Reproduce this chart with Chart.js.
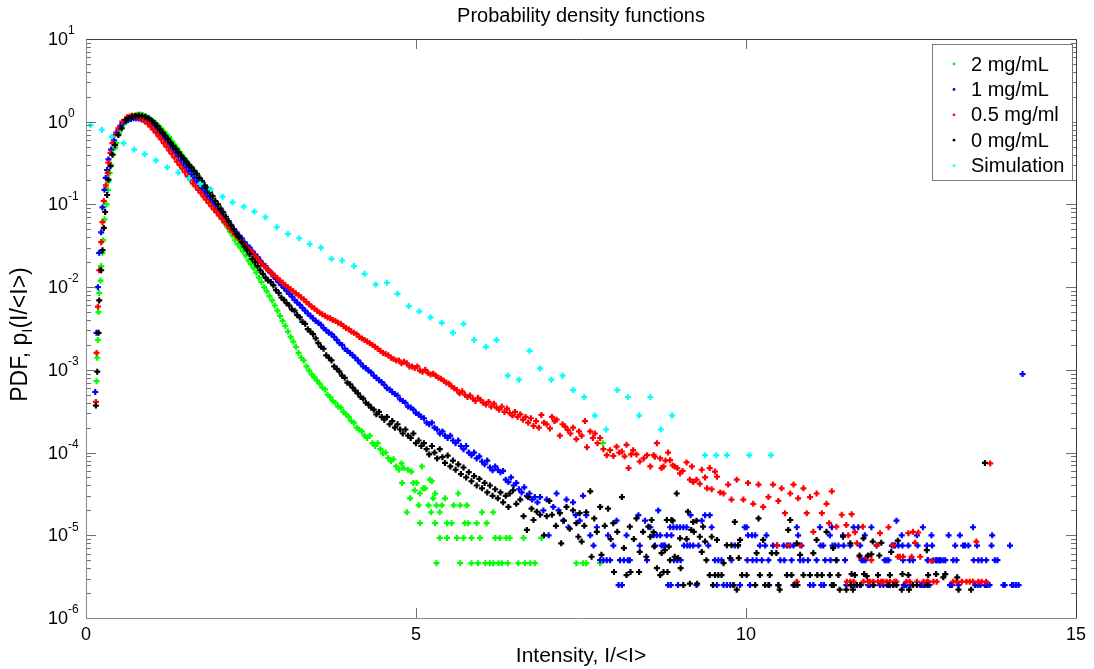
<!DOCTYPE html>
<html>
<head>
<meta charset="utf-8">
<title>Probability density functions</title>
<script src="https://cdn.jsdelivr.net/npm/chart.js@4.4.1/dist/chart.umd.min.js"></script>
<style>
  html, body { margin: 0; padding: 0; background: #fff; }
  canvas { display: block; }
</style>
</head>
<body>
<canvas id="pdfChart" width="1094" height="669"></canvas>
<script>
// intensity PDFs, each point is [I/<I>, p_I]
const pdf2mg = [
  [0.16,7.3e-4],[0.17,1.4e-3],[0.18,2.3e-3],[0.19,5.0e-3],[0.20,8.5e-3],[0.22,1.2e-2],[0.23,1.8e-2],[0.25,2.6e-2],[0.26,3.7e-2],[0.28,6.6e-2],
  [0.31,0.10],[0.33,0.15],[0.34,0.19],[0.36,0.24],[0.38,0.30],[0.41,0.40],[0.44,0.48],[0.46,0.55],[0.50,0.73],[0.54,0.84],[0.58,0.95],[0.62,1.03],
  [0.66,1.10],[0.70,1.15],[0.74,1.18],[0.78,1.21],[0.82,1.22],[0.86,1.20],[0.90,1.17],[0.94,1.12],[0.98,1.06],[1.02,1.00],[1.06,0.95],[1.10,0.89],
  [1.14,0.83],[1.18,0.76],[1.22,0.70],[1.26,0.65],[1.30,0.58],[1.34,0.53],[1.38,0.48],[1.42,0.43],[1.46,0.39],[1.50,0.35],[1.54,0.32],[1.58,0.28],
  [1.62,0.25],[1.66,0.23],[1.70,0.21],[1.74,0.19],[1.78,0.165],[1.82,0.145],[1.86,0.13],[1.90,0.115],[1.94,0.10],[1.98,0.086],[2.02,0.074],
  [2.06,0.067],[2.10,0.060],[2.14,0.053],[2.18,0.047],[2.22,0.042],[2.26,0.037],[2.30,0.033],[2.34,0.030],[2.38,0.027],[2.42,0.024],[2.46,0.021],
  [2.50,0.019],[2.54,0.017],[2.58,0.015],[2.62,0.013],[2.66,0.0115],[2.70,0.010],[2.74,0.0089],[2.78,0.0078],[2.82,0.0069],[2.86,0.0060],
  [2.90,0.0052],[2.94,0.0045],[2.98,0.0039],[3.02,0.0034],[3.06,0.0029],[3.10,0.0025],[3.14,0.0022],[3.18,0.0019],[3.22,0.0016],[3.26,0.0014],
  [3.30,0.0013],[3.34,0.0011],[3.38,9.8e-4],[3.42,8.8e-4],[3.46,8.1e-4],[3.50,7.4e-4],[3.54,6.8e-4],[3.58,6.1e-4],[3.62,5.8e-4],[3.66,5.0e-4],
  [3.70,4.7e-4],[3.74,4.2e-4],[3.78,4.0e-4],[3.82,3.6e-4],[3.86,3.5e-4],[3.90,3.1e-4],[3.94,2.9e-4],[3.98,2.7e-4],[4.02,2.4e-4],[4.06,2.3e-4],
  [4.10,2.0e-4],[4.14,1.9e-4],[4.18,1.8e-4],[4.22,1.6e-4],[4.26,1.5e-4],[4.30,1.6e-4],[4.34,1.3e-4],[4.38,1.2e-4],[4.42,1.3e-4],[4.46,1.1e-4],
  [4.50,9.8e-5],[4.54,1.0e-4],[4.58,8.6e-5],[4.62,7.9e-5],[4.66,8.3e-5],[4.70,6.8e-5],[4.74,6.2e-5],
  [4.78,7.4e-5],[4.81,6.5e-5],[4.88,6.2e-5],[4.93,5.9e-5],[4.79,4.3e-5],[4.96,4.3e-5],[5.01,4.3e-5],[5.09,6.8e-5],[5.11,3.7e-5],[5.14,3.7e-5],
  [5.21,4.7e-5],[5.24,4.5e-5],[4.98,3.5e-5],[5.06,3.2e-5],[4.91,2.8e-5],[5.04,2.3e-5],[5.26,2.8e-5],[5.29,3.2e-5],[5.19,2.3e-5],[5.23,1.9e-5],
  [5.31,2.3e-5],[5.39,2.3e-5],[4.86,1.9e-5],[5.06,1.4e-5],[5.29,1.4e-5],[5.36,1.9e-5],[5.44,2.8e-5],[5.47,1.4e-5],[5.54,1.4e-5],[5.57,2.3e-5],
  [5.64,3.2e-5],[5.67,2.3e-5],[5.74,1.4e-5],[5.77,2.3e-5],[5.79,1.4e-5],[5.92,1.4e-5],[6.00,1.9e-5],[6.07,1.4e-5],[6.17,1.9e-5],
  [5.36,9.3e-6],[5.47,9.3e-6],[5.62,9.3e-6],[5.72,9.3e-6],[5.84,9.3e-6],[5.97,9.3e-6],[6.20,9.3e-6],[6.27,9.3e-6],[6.37,9.3e-6],[6.42,9.3e-6],
  [6.63,9.3e-6],[6.90,9.3e-6],[5.31,4.6e-6],[5.67,4.6e-6],[5.84,4.6e-6],[5.94,4.6e-6],[6.05,4.6e-6],[6.12,4.6e-6],[6.17,4.6e-6],[6.25,4.6e-6],
  [6.30,4.6e-6],[6.39,4.6e-6],[6.55,4.6e-6],[6.65,4.6e-6],[6.73,4.6e-6],[6.80,4.6e-6],[7.43,4.6e-6],[7.53,4.6e-6],[7.58,4.6e-6],[7.79,4.6e-6],
  [7.83,1.3e-4]
];

const pdf1mg = [
  [0.14,5.4e-4],[0.16,2.8e-3],[0.18,1.0e-2],[0.20,2.6e-2],[0.23,4.6e-2],[0.25,9.2e-2],[0.28,0.15],[0.30,0.21],[0.32,0.26],[0.34,0.35],[0.38,0.46],
  [0.42,0.60],[0.46,0.74],[0.52,0.89],[0.56,0.96],[0.60,1.01],[0.64,1.05],[0.68,1.08],[0.72,1.10],[0.76,1.10],[0.80,1.09],[0.84,1.07],[0.88,1.04],
  [0.92,1.00],[0.96,0.95],[1.00,0.90],[1.04,0.84],[1.08,0.78],[1.12,0.72],[1.16,0.66],[1.20,0.61],[1.24,0.56],[1.28,0.50],[1.32,0.46],[1.36,0.42],
  [1.40,0.38],[1.44,0.34],[1.48,0.31],[1.52,0.28],[1.56,0.255],[1.60,0.23],[1.64,0.21],[1.68,0.19],[1.72,0.17],[1.76,0.155],[1.80,0.14],
  [1.84,0.127],[1.88,0.115],[1.92,0.105],[1.96,0.095],[2.00,0.087],[2.04,0.080],[2.08,0.073],[2.12,0.066],[2.16,0.061],[2.20,0.055],[2.24,0.050],
  [2.28,0.046],[2.32,0.042],[2.36,0.039],[2.40,0.035],[2.44,0.032],[2.48,0.030],[2.52,0.027],[2.56,0.025],[2.60,0.023],[2.64,0.021],[2.68,0.019],
  [2.72,0.018],[2.76,0.016],[2.80,0.015],[2.84,0.0135],[2.88,0.0125],[2.92,0.0115],[2.96,0.0106],[3.00,0.0098],[3.04,0.0090],[3.08,0.0083],
  [3.12,0.0077],[3.16,0.0070],[3.20,0.0065],[3.24,0.0061],[3.28,0.0056],[3.32,0.0052],[3.36,0.0048],[3.40,0.0045],[3.44,0.0042],[3.48,0.0039],
  [3.52,0.0037],[3.56,0.0035],[3.60,0.0032],[3.64,0.0030],[3.68,0.0028],[3.72,0.0027],[3.76,0.0025],[3.80,0.0023],[3.84,0.0021],[3.88,0.0020],
  [3.92,0.0018],[3.96,0.0017],[4.00,0.0016],[4.04,0.0015],[4.08,0.0014],[4.12,0.0013],[4.16,0.0012],[4.20,0.0011],[4.24,1.05e-3],[4.28,9.8e-4],
  [4.32,9.3e-4],[4.36,8.5e-4],[4.40,8.0e-4],[4.44,7.5e-4],[4.48,7.1e-4],[4.52,6.6e-4],[4.56,6.0e-4],[4.60,5.8e-4],[4.64,5.4e-4],[4.68,5.1e-4],
  [4.72,4.9e-4],[4.76,4.4e-4],[4.80,4.2e-4],[4.84,4.0e-4],[4.88,3.6e-4],[4.92,3.5e-4],[4.96,3.3e-4],[5.00,3.0e-4],[5.04,2.9e-4],[5.08,2.7e-4],
  [5.12,2.6e-4],[5.16,2.3e-4],[5.20,2.2e-4],[5.24,2.3e-4],[5.28,2.0e-4],[5.32,1.9e-4],[5.36,1.7e-4],[5.40,1.8e-4],[5.44,1.6e-4],[5.48,1.5e-4],
  [5.52,1.6e-4],[5.56,1.4e-4],[5.60,1.3e-4],[5.64,1.4e-4],[5.68,1.2e-4],[5.72,1.1e-4],[5.76,1.2e-4],[5.80,1.0e-4],[5.84,9.3e-5],[5.88,1.0e-4],
  [5.92,8.5e-5],[5.96,9.0e-5],[6.00,7.8e-5],[6.04,7.2e-5],[6.08,8.0e-5],[6.12,6.6e-5],[6.16,6.1e-5],[6.20,6.8e-5],[6.24,6.2e-5],[6.28,5.8e-5],
  [6.32,6.0e-5],[6.36,4.7e-5],[6.40,4.4e-5],[6.44,5.0e-5],[6.48,4.0e-5],[6.52,4.3e-5],[6.56,3.6e-5],[6.60,3.3e-5],[6.64,3.8e-5],[6.68,3.0e-5],
  [6.72,3.2e-5],[6.76,2.7e-5],[6.80,2.9e-5],[6.84,2.5e-5],
  [6.88,2.9e-5],[6.93,2.0e-5],[6.98,2.7e-5],[7.01,1.0e-5],[7.08,2.2e-5],[7.13,3.2e-5],[7.16,2.0e-5],[7.23,1.5e-5],[7.28,2.7e-5],[7.31,1.25e-5],
  [7.38,2.5e-5],[7.42,1.75e-5],[7.48,1.5e-5],[7.53,3.0e-5],[7.58,1.75e-5],[7.64,1.0e-5],[7.69,7.5e-6],[7.74,1.25e-5],[7.79,5e-6],[7.84,5e-6],
  [7.89,5e-6],[7.91,1.0e-5],[7.94,5e-6],[7.99,7.5e-6],[8.04,1.5e-5],[8.07,2.5e-6],[8.09,5e-6],[8.12,2.5e-6],[8.15,5e-6],[8.19,1.0e-5],[8.21,5e-6],
  [8.24,5e-6],[8.37,1.75e-5],[8.39,7.5e-6],[8.47,1.5e-5],[8.50,5e-6],[8.55,1.25e-5],[8.60,1.0e-5],[8.62,7.5e-6],[8.65,1.0e-5],[8.67,2.0e-5],
  [8.70,1.0e-5],[8.72,7.5e-6],[8.75,7.5e-6],[8.77,7.5e-6],[8.80,1.0e-5],[8.82,2.5e-6],[8.85,1.25e-5],[8.86,2.5e-6],[8.87,1.0e-5],[8.90,1.25e-5],
  [8.91,5e-6],[8.95,1.25e-5],[8.96,5e-6],[8.97,2.5e-6],[9.00,1.25e-5],[9.01,5e-6],[9.05,1.25e-5],[9.06,7.5e-6],[9.10,1.25e-5],[9.11,7.5e-6],
  [9.15,7.5e-6],[9.16,1.75e-5],[9.20,7.5e-6],[9.25,2.5e-6],[9.28,7.5e-6],[9.33,1.5e-5],[9.38,1.75e-5],[9.43,7.5e-6],[9.45,1.75e-5],[9.48,1.25e-5],
  [9.50,2.5e-6],[9.53,5e-6],[9.56,2.5e-6],[9.58,5e-6],[9.63,5e-6],[9.66,2.5e-6],[9.71,2.5e-6],[9.76,2.5e-6],[9.78,5e-6],[9.81,2.5e-6],[9.83,7.5e-6],
  [9.88,7.5e-6],[9.91,2.5e-6],[9.98,1.25e-5],[10.01,1.25e-5],[10.02,5e-6],[10.03,1.0e-5],[10.06,2.5e-6],[10.09,1.0e-5],[10.10,5e-6],[10.14,1.0e-5],
  [10.16,5e-6],[10.21,7.5e-6],[10.24,5e-6],[10.29,7.5e-6],[10.31,1.0e-5],[10.34,5e-6],[10.35,2.5e-6],[10.41,7.5e-6],[10.47,7.5e-6],[10.49,2.5e-6],
  [10.52,5e-6],[10.57,7.5e-6],[10.58,5e-6],[10.62,7.5e-6],[10.67,7.5e-6],[10.69,5e-6],[10.72,7.5e-6],[10.74,2.5e-6],[10.77,1.25e-5],[10.79,1.0e-5],
  [10.82,5e-6],[10.84,7.5e-6],[10.87,5e-6],[10.94,5e-6],[10.97,2.5e-6],[11.02,2.5e-6],[11.07,5e-6],[11.12,1.25e-5],[11.13,7.5e-6],[11.14,2.5e-6],
  [11.17,7.5e-6],[11.18,2.5e-6],[11.20,5e-6],[11.27,1.0e-5],[11.28,5e-6],[11.30,1.25e-5],[11.31,7.5e-6],[11.35,7.5e-6],[11.37,5e-6],[11.40,7.5e-6],
  [11.47,1.0e-5],[11.48,7.5e-6],[11.50,5e-6],[11.52,2.5e-6],[11.58,7.5e-6],[11.59,2.5e-6],[11.63,1.25e-5],[11.64,2.5e-6],[11.68,2.5e-6],
  [11.70,1.25e-5],[11.73,7.5e-6],[11.74,2.5e-6],[11.75,5e-6],[11.78,5e-6],[11.80,1.0e-5],[11.81,5e-6],[11.85,2.5e-6],[11.88,2.5e-6],[11.90,1.25e-5],
  [11.93,2.5e-6],[11.98,7.5e-6],[12.03,2.5e-6],[12.08,2.5e-6],[12.10,5e-6],[12.13,5e-6],[12.14,2.5e-6],[12.16,5e-6],[12.18,2.5e-6],[12.21,7.5e-6],
  [12.23,2.5e-6],[12.24,7.5e-6],[12.26,7.5e-6],[12.28,1.5e-5],[12.31,7.5e-6],[12.36,1.0e-5],[12.37,7.5e-6],[12.38,5e-6],[12.39,2.5e-6],
  [12.41,2.5e-6],[12.43,2.5e-6],[12.46,7.5e-6],[12.48,5e-6],[12.49,2.5e-6],[12.53,5e-6],[12.59,1.0e-5],[12.60,7.5e-6],[12.64,2.5e-6],
  [12.66,2.5e-6],[12.68,1.25e-5],[12.69,2.5e-6],[12.71,2.5e-6],[12.74,7.5e-6],[12.75,5e-6],[12.76,5e-6],[12.78,2.5e-6],[12.81,1.0e-5],
  [12.82,7.5e-6],[12.84,5e-6],[12.88,5e-6],[12.89,5e-6],[12.92,5e-6],[12.94,5e-6],[12.95,5e-6],[12.99,5e-6],[13.02,5e-6],[13.07,1.0e-5],
  [13.09,2.5e-6],[13.12,2.5e-6],[13.14,5e-6],[13.17,7.5e-6],[13.19,5e-6],[13.22,2.5e-6],[13.24,1.0e-5],[13.29,7.5e-6],[13.32,7.5e-6],
  [13.37,7.5e-6],[13.44,1.25e-5],[13.45,5e-6],[13.47,2.5e-6],[13.50,7.5e-6],[13.51,2.5e-6],[13.52,5e-6],[13.55,2.5e-6],[13.57,5e-6],
  [13.62,2.5e-6],[13.64,5e-6],[13.65,2.5e-6],[13.69,2.5e-6],[13.72,7.5e-6],[13.73,1.0e-5],[13.77,5e-6],[13.81,5e-6],[13.90,2.5e-6],
  [13.92,2.5e-6],[14.00,7.5e-6],[14.03,2.5e-6],[14.05,2.5e-6],[14.09,2.5e-6],[14.13,2.5e-6],[14.19,8.9e-4]
];

const pdf05mg = [
  [0.15,4.1e-4],[0.16,1.6e-3],[0.18,5.8e-3],[0.20,1.6e-2],[0.23,3.5e-2],[0.25,6.1e-2],[0.27,0.11],[0.30,0.17],[0.33,0.24],[0.34,0.32],[0.37,0.42],
  [0.40,0.55],[0.43,0.69],[0.49,0.83],[0.55,1.0],[0.62,1.13],[0.66,1.16],[0.70,1.18],[0.74,1.17],[0.78,1.15],[0.82,1.11],[0.86,1.06],[0.90,1.00],
  [0.94,0.94],[0.98,0.87],[1.02,0.80],[1.06,0.74],[1.10,0.67],[1.14,0.61],[1.18,0.55],[1.22,0.50],[1.26,0.45],[1.30,0.41],[1.34,0.37],[1.38,0.33],
  [1.42,0.30],[1.46,0.27],[1.50,0.245],[1.54,0.22],[1.58,0.20],[1.62,0.18],[1.66,0.165],[1.70,0.15],[1.74,0.138],[1.78,0.125],[1.82,0.114],
  [1.86,0.104],[1.90,0.095],[1.94,0.087],[1.98,0.080],[2.02,0.073],[2.06,0.067],[2.10,0.061],[2.14,0.056],[2.18,0.051],[2.22,0.047],[2.26,0.043],
  [2.30,0.040],[2.34,0.037],[2.38,0.034],[2.42,0.031],[2.46,0.029],[2.50,0.027],[2.54,0.025],[2.58,0.023],[2.62,0.021],[2.66,0.0195],[2.70,0.018],
  [2.74,0.0168],[2.78,0.0157],[2.82,0.0146],[2.86,0.0137],[2.90,0.0128],[2.94,0.012],[2.98,0.0113],[3.02,0.0106],[3.06,0.0100],[3.10,0.0094],
  [3.14,0.0089],[3.18,0.0084],[3.22,0.0080],[3.26,0.0075],[3.30,0.0071],[3.34,0.0066],[3.38,0.0062],[3.42,0.0058],[3.46,0.0055],[3.50,0.0052],
  [3.54,0.0049],[3.58,0.0047],[3.62,0.0045],[3.66,0.0043],[3.70,0.0042],[3.74,0.0040],[3.78,0.0039],[3.82,0.0037],[3.86,0.0036],[3.90,0.0034],
  [3.94,0.0032],[3.98,0.0031],[4.02,0.0029],[4.06,0.0028],[4.10,0.0027],[4.14,0.0025],[4.18,0.0024],[4.22,0.0023],[4.26,0.0022],[4.30,0.0021],
  [4.34,0.0020],[4.38,0.0019],[4.42,0.0018],[4.46,0.0017],[4.50,0.0016],[4.54,0.00155],[4.58,0.0015],[4.62,0.0014],[4.66,0.00135],[4.70,0.0013],
  [4.74,0.0013],[4.78,0.0012],[4.82,0.00125],[4.86,0.0012],[4.90,0.0011],[4.94,0.0011],[4.98,0.00105],[5.02,0.0011],[5.06,9.8e-4],[5.10,9.5e-4],
  [5.14,1.0e-3],[5.18,9.2e-4],[5.22,8.8e-4],[5.26,9.0e-4],[5.30,8.5e-4],[5.34,8.0e-4],[5.38,7.8e-4],[5.42,7.4e-4],[5.46,7.0e-4],[5.50,6.8e-4],
  [5.54,6.3e-4],[5.58,6.0e-4],[5.62,5.7e-4],[5.66,5.2e-4],[5.70,5.5e-4],[5.74,5.0e-4],[5.78,4.7e-4],[5.82,4.9e-4],[5.86,4.5e-4],[5.90,4.2e-4],
  [5.94,4.6e-4],[5.98,4.3e-4],[6.02,4.0e-4],[6.06,3.8e-4],[6.10,4.1e-4],[6.14,3.6e-4],[6.18,3.9e-4],[6.22,3.5e-4],[6.26,3.3e-4],[6.30,3.6e-4],
  [6.34,3.1e-4],[6.38,3.4e-4],[6.42,3.0e-4],[6.46,2.8e-4],[6.50,3.1e-4],[6.54,2.7e-4],[6.58,2.9e-4],[6.62,2.5e-4],[6.66,2.7e-4],[6.70,2.3e-4],
  [6.74,2.6e-4],[6.78,2.1e-4],[6.82,2.4e-4],[6.86,2.0e-4],
  [6.90,2.85e-4],[6.94,2.3e-4],[6.98,2.2e-4],[7.03,1.96e-4],[7.06,2.7e-4],[7.10,2.4e-4],[7.13,2.5e-4],[7.18,1.6e-4],[7.22,2.2e-4],[7.26,2.06e-4],
  [7.30,1.88e-4],[7.34,1.7e-4],[7.38,2.0e-4],[7.43,1.45e-4],[7.47,1.8e-4],[7.51,1.6e-4],[7.56,2.4e-4],[7.59,1.16e-4],[7.64,1.8e-4],[7.68,1.5e-4],
  [7.71,1.7e-4],[7.75,1.3e-4],[7.79,1.5e-4],[7.84,1.1e-4],[7.89,9.3e-5],[7.94,1.07e-4],[7.99,9.1e-5],[8.04,1.18e-4],[8.08,1.0e-4],[8.12,1.03e-4],
  [8.16,9.0e-5],[8.19,1.24e-4],[8.22,6.5e-5],[8.26,9.5e-5],[8.29,1.07e-4],[8.34,9.5e-5],[8.39,7.8e-5],[8.45,8.5e-5],[8.50,9.3e-5],[8.55,6.8e-5],
  [8.60,9.3e-5],[8.62,8.9e-5],[8.65,1.3e-4],[8.70,8.5e-5],[8.72,6.5e-5],[8.75,6.8e-5],[8.78,8.0e-5],[8.82,1.0e-4],[8.85,8.1e-5],[8.89,7.0e-5],
  [8.92,6.8e-5],[8.96,6.5e-5],[9.00,5.6e-5],[9.04,6.0e-5],[9.10,7.6e-5],[9.15,4.7e-5],[9.18,6.8e-5],[9.20,4.4e-5],[9.25,4.7e-5],[9.30,4.2e-5],
  [9.33,6.2e-5],[9.38,5.0e-5],[9.41,3.7e-5],[9.45,6.5e-5],[9.48,3.6e-5],[9.53,5.9e-5],[9.56,5.1e-5],[9.61,3.3e-5],[9.66,3.2e-5],[9.73,4.1e-5],
  [9.78,2.7e-5],[9.86,4.7e-5],[9.96,2.7e-5],[10.03,4.3e-5],[10.11,2.4e-5],[10.19,4.1e-5],[10.26,2.2e-5],[10.34,2.9e-5],[10.41,4.1e-5],
  [10.47,7.6e-6],[10.49,2.6e-5],[10.54,3.7e-5],[10.59,1.85e-5],[10.64,7.6e-6],[10.67,3.2e-5],[10.72,4.1e-5],[10.77,2.75e-6],[10.79,2.8e-5],
  [10.82,7.6e-6],[10.87,3.7e-5],[10.92,1.85e-5],[10.97,2.9e-5],[11.02,1.1e-5],[11.07,3.2e-5],[11.15,1.85e-5],[11.22,2.4e-5],[11.26,1.4e-5],
  [11.30,3.4e-5],[11.37,1.27e-5],[11.45,1.77e-5],[11.52,1.33e-5],[11.53,2.75e-6],[11.55,1.0e-5],[11.58,2.75e-6],[11.60,1.8e-5],[11.63,2.75e-6],
  [11.65,1.09e-5],[11.68,8.0e-6],[11.72,5.5e-6],[11.77,1.27e-5],[11.78,2.75e-6],[11.83,5.5e-6],[11.85,2.75e-6],[11.88,2.75e-6],[11.90,5.0e-6],
  [11.93,2.75e-6],[11.98,7.6e-6],[12.00,2.75e-6],[12.03,1.06e-5],[12.05,2.75e-6],[12.08,2.75e-6],[12.13,2.75e-6],[12.16,1.25e-5],[12.18,2.75e-6],
  [12.23,7.6e-6],[12.25,2.75e-6],[12.28,2.75e-6],[12.30,5.5e-6],[12.33,5.5e-6],[12.38,5.5e-6],[12.43,2.75e-6],[12.46,1.06e-5],[12.48,2.75e-6],
  [12.51,5.5e-6],[12.53,1.1e-5],[12.56,8.1e-6],[12.59,2.75e-6],[12.61,1.08e-5],[12.64,5.5e-6],[12.69,2.75e-6],[12.74,2.75e-6],[12.76,2.75e-6],
  [12.81,4.9e-6],[12.84,2.75e-6],[12.89,2.75e-6],[13.14,2.75e-6],[13.19,2.75e-6],[13.27,2.75e-6],[13.34,2.75e-6],[13.39,2.75e-6],[13.44,2.75e-6],
  [13.49,8.4e-6],[13.52,2.75e-6],[13.57,2.75e-6],[13.64,2.75e-6],[13.70,7.4e-5]
];

const pdf0mg = [
  [0.15,3.7e-4],[0.17,9.5e-4],[0.19,2.8e-3],[0.20,6.9e-3],[0.23,1.6e-2],[0.25,2.8e-2],[0.27,5.2e-2],[0.29,8.1e-2],[0.32,0.13],[0.34,0.20],
  [0.37,0.29],[0.40,0.40],[0.44,0.52],[0.49,0.69],[0.54,0.83],[0.60,1.05],[0.65,1.11],[0.70,1.15],[0.75,1.18],[0.80,1.19],[0.85,1.18],[0.90,1.15],
  [0.95,1.10],[1.00,1.03],[1.04,0.96],[1.08,0.89],[1.12,0.81],[1.16,0.74],[1.20,0.68],[1.24,0.62],[1.28,0.56],[1.32,0.51],[1.36,0.47],[1.40,0.43],
  [1.44,0.39],[1.48,0.36],[1.52,0.33],[1.56,0.30],[1.60,0.28],[1.64,0.255],[1.68,0.235],[1.72,0.21],[1.76,0.19],[1.80,0.17],[1.84,0.155],
  [1.88,0.14],[1.92,0.125],[1.96,0.11],[2.00,0.10],[2.04,0.089],[2.08,0.080],[2.12,0.071],[2.16,0.063],[2.20,0.056],[2.24,0.050],[2.28,0.044],
  [2.32,0.040],[2.36,0.035],[2.40,0.031],[2.44,0.028],[2.48,0.025],[2.52,0.022],[2.56,0.020],[2.60,0.018],[2.64,0.016],[2.68,0.0145],[2.72,0.013],
  [2.76,0.012],[2.80,0.0115],[2.84,0.0105],[2.88,0.0092],[2.92,0.0085],[2.96,0.0075],[3.00,0.0070],[3.04,0.0064],[3.08,0.0060],[3.12,0.0054],
  [3.16,0.0052],[3.20,0.0046],[3.24,0.0043],[3.28,0.0038],[3.32,0.0036],[3.36,0.0031],[3.40,0.0029],[3.44,0.0027],[3.48,0.0024],[3.52,0.0021],
  [3.56,0.0019],[3.60,0.0018],[3.64,0.0015],[3.68,0.0014],[3.72,0.0013],[3.76,0.0011],[3.80,1.03e-3],[3.84,9.5e-4],[3.88,8.5e-4],[3.92,8.0e-4],
  [3.96,7.0e-4],[4.00,6.7e-4],[4.04,6.1e-4],[4.08,5.6e-4],[4.12,5.2e-4],[4.16,4.7e-4],[4.20,4.5e-4],[4.24,4.0e-4],[4.28,3.8e-4],[4.32,3.5e-4],
  [4.36,3.3e-4],[4.40,2.9e-4],[4.44,3.1e-4],[4.48,2.7e-4],[4.52,2.5e-4],[4.56,2.7e-4],[4.60,2.2e-4],[4.64,2.4e-4],[4.68,2.0e-4],[4.72,2.2e-4],
  [4.76,1.9e-4],[4.80,1.7e-4],[4.84,1.9e-4],[4.88,1.6e-4],[4.92,1.5e-4],[4.96,1.7e-4],[5.00,1.3e-4],[5.04,1.4e-4],[5.08,1.2e-4],[5.12,1.3e-4],
  [5.16,1.1e-4],[5.20,9.5e-5],[5.24,1.2e-4],[5.28,1.0e-4],[5.32,8.5e-5],[5.36,1.1e-4],[5.40,8.8e-5],[5.44,7.5e-5],[5.48,9.2e-5],[5.52,6.8e-5],
  [5.56,8.0e-5],[5.60,6.2e-5],[5.64,7.2e-5],[5.68,5.5e-5],[5.72,6.6e-5],[5.76,5.0e-5],[5.80,5.8e-5],[5.84,4.5e-5],[5.88,5.2e-5],[5.92,4.0e-5],
  [5.96,4.8e-5],[6.00,3.7e-5],[6.04,4.3e-5],[6.08,3.3e-5],[6.12,4.0e-5],[6.16,3.0e-5],[6.20,3.6e-5],[6.24,2.8e-5],[6.28,3.3e-5],[6.32,2.5e-5],
  [6.36,3.0e-5],[6.40,2.2e-5],
  [6.42,3.2e-5],[6.47,3.5e-5],[6.52,2.4e-5],[6.58,2.7e-5],[6.63,1.7e-5],[6.68,1.16e-5],[6.70,2.9e-5],[6.75,2.1e-5],[6.78,1.53e-5],[6.83,1.93e-5],
  [6.88,1.77e-5],[6.94,1.0e-5],[6.98,1.7e-5],[7.02,2.6e-5],[7.06,1.77e-5],[7.12,1.3e-5],[7.18,1.85e-5],[7.20,8.0e-6],[7.24,1.5e-5],[7.28,2.2e-5],
  [7.33,1.2e-5],[7.38,2.0e-5],[7.43,1.4e-5],[7.46,9.6e-6],[7.48,1.85e-5],[7.51,8.4e-6],[7.55,1.3e-5],[7.58,1.9e-5],[7.64,3.4e-5],[7.66,5.5e-6],
  [7.70,1.6e-5],[7.74,1.1e-5],[7.79,2.2e-5],[7.81,5.8e-6],[7.86,1.3e-5],[7.91,2.1e-5],[7.95,9.0e-6],[7.99,1.4e-5],[8.00,3.6e-6],[8.05,1.1e-5],
  [8.12,2.9e-5],[8.15,7.0e-6],[8.19,3.3e-6],[8.24,1.27e-5],[8.25,3.6e-6],[8.30,9.0e-6],[8.34,1.6e-5],[8.38,3.6e-6],[8.39,6.3e-6],[8.44,1.1e-5],
  [8.49,5.5e-6],[8.52,1.27e-5],[8.55,9.6e-6],[8.57,1.53e-5],[8.60,1.09e-5],[8.61,7.3e-6],[8.65,4.0e-6],[8.70,3.3e-6],[8.72,6.1e-6],[8.75,3.6e-6],
  [8.77,6.6e-6],[8.80,1.53e-5],[8.81,3.6e-6],[8.83,7.3e-6],[8.85,5.0e-6],[8.87,1.53e-5],[8.89,1.5e-5],[8.92,5.5e-6],[8.95,3.2e-5],[8.97,5.3e-6],
  [9.00,9.2e-6],[9.01,4.0e-6],[9.05,2.5e-6],[9.10,9.0e-6],[9.12,1.93e-5],[9.15,2.6e-6],[9.17,1.16e-5],[9.20,1.45e-5],[9.21,1.1e-5],[9.25,1.5e-5],
  [9.26,2.6e-6],[9.30,9.6e-6],[9.33,6.3e-6],[9.35,1.27e-5],[9.38,8.4e-6],[9.40,5.0e-6],[9.45,3.3e-6],[9.48,9.6e-6],[9.50,2.5e-6],[9.53,3.3e-6],
  [9.56,8.8e-6],[9.58,3.3e-6],[9.63,3.3e-6],[9.66,4.6e-6],[9.71,7.6e-6],[9.76,5.3e-6],[9.78,7.6e-6],[9.81,2.5e-6],[9.83,1.45e-5],[9.86,2.2e-6],
  [9.88,7.6e-6],[9.89,5.3e-6],[9.91,8.8e-6],[9.94,3.3e-6],[10.01,3.3e-6],[10.14,2.5e-6],[10.16,6.1e-6],[10.19,1.6e-5],[10.21,3.3e-6],
  [10.26,8.8e-6],[10.29,2.5e-6],[10.34,2.5e-6],[10.36,3.3e-6],[10.39,6.1e-6],[10.46,6.1e-6],[10.49,2.5e-6],[10.51,2.2e-6],[10.62,3.3e-6],
  [10.64,1.16e-5],[10.67,1.53e-5],[10.69,3.3e-6],[10.72,2.5e-6],[10.77,8.0e-6],[10.78,2.5e-6],[10.82,5.8e-6],[10.87,3.3e-6],[10.97,3.3e-6],
  [11.02,6.1e-6],[11.07,8.8e-6],[11.08,3.3e-6],[11.15,3.3e-6],[11.22,1.1e-5],[11.27,3.3e-6],[11.30,2.5e-6],[11.32,7.0e-6],[11.33,2.5e-6],
  [11.37,5.0e-6],[11.40,3.3e-6],[11.42,2.2e-6],[11.47,9.6e-6],[11.52,2.2e-6],[11.58,8.0e-6],[11.59,2.5e-6],[11.60,3.4e-6],[11.62,2.2e-6],
  [11.65,3.3e-6],[11.68,2.5e-6],[11.72,5.7e-6],[11.73,2.5e-6],[11.78,9.2e-6],[11.79,3.4e-6],[11.83,3.2e-6],[11.85,5.7e-6],[11.90,5.9e-6],
  [11.92,8.4e-6],[11.93,2.5e-6],[12.00,3.3e-6],[12.02,5.7e-6],[12.05,8.1e-6],[12.16,2.5e-6],[12.18,3.3e-6],[12.20,6.3e-6],[12.23,2.5e-6],
  [12.28,2.5e-6],[12.30,8.6e-6],[12.36,2.2e-6],[12.37,3.4e-6],[12.46,3.3e-6],[12.47,2.2e-6],[12.53,2.5e-6],[12.59,2.5e-6],[12.74,6.6e-6],
  [12.75,2.5e-6],[12.76,3.3e-6],[12.88,3.4e-6],[12.99,3.1e-6],[13.02,3.4e-6],[13.20,3.1e-6],[13.22,2.2e-6],[13.41,2.2e-6],[13.62,7.5e-5]
];

const pdfSim = [
  [0.07,0.91],[0.24,0.80],[0.39,0.66],[0.57,0.55],[0.73,0.46],[0.89,0.405],[1.06,0.34],[1.23,0.28],[1.40,0.243],[1.56,0.207],[1.73,0.177],
  [1.89,0.153],[2.07,0.124],[2.22,0.106],[2.39,0.094],[2.55,0.082],[2.72,0.070],[2.89,0.053],[3.06,0.044],[3.23,0.039],[3.39,0.033],[3.56,0.030],
  [3.72,0.022],[3.88,0.021],[4.06,0.018],[4.22,0.0145],[4.39,0.0108],[4.56,0.0113],[4.72,0.0083],[4.89,0.0059],[5.05,0.0051],[5.22,0.0043],
  [5.39,0.0037],[5.56,0.0028],[5.72,0.0036],[5.88,0.0023],[6.06,0.0019],[6.22,0.0023],[6.39,8.5e-4],[6.56,7.6e-4],[6.72,1.7e-3],[6.88,1.04e-3],
  [7.05,7.6e-4],[7.22,8.5e-4],[7.38,5.7e-4],[7.55,4.7e-4],[7.71,2.8e-4],[7.88,1.9e-4],[8.05,5.7e-4],[8.21,4.7e-4],[8.38,2.8e-4],[8.55,4.7e-4],
  [8.71,1.9e-4],[8.88,2.8e-4],[9.38,9.3e-5],[9.55,9.3e-5],[9.71,9.3e-5],[10.05,9.3e-5],[10.38,9.3e-5]
];

const seriesLabels = ['2 mg/mL', '1 mg/mL', '0.5 mg/ml', '0 mg/mL', 'Simulation'];
const seriesColors = ['#00ff00', '#0000ff', '#ff0000', '#000000', '#00ffff'];
const seriesData = [pdf2mg, pdf1mg, pdf05mg, pdf0mg, pdfSim];

const xTicks = [0, 5, 10, 15];
const yDecades = [-6, -5, -4, -3, -2, -1, 0, 1];

const FONT = '"Liberation Sans", Arial, Helvetica, sans-serif';

// frame, inward ticks, tick labels, titles and legend, drawn by hand
const matlabAxes = {
  id: 'matlabAxes',
  afterDatasetsDraw(chart) {
    const { ctx, chartArea: a } = chart;
    const xs = chart.scales.x, ys = chart.scales.y;
    ctx.save();

    ctx.lineWidth = 1;
    ctx.strokeStyle = '#6f6f6f';
    ctx.beginPath();
    xTicks.forEach(v => {
      const px = Math.round(xs.getPixelForValue(v)) + 0.5;
      ctx.moveTo(px, a.bottom); ctx.lineTo(px, a.bottom - 10);
      ctx.moveTo(px, a.top); ctx.lineTo(px, a.top + 10);
    });
    yDecades.forEach((e, i) => {
      const last = i === yDecades.length - 1;
      for (let k = 1; k <= (last ? 1 : 9); k++) {
        const py = Math.round(ys.getPixelForValue(k * Math.pow(10, e))) + 0.5;
        const len = k === 1 ? 10 : 5;
        ctx.moveTo(a.left, py); ctx.lineTo(a.left + len, py);
        ctx.moveTo(a.right, py); ctx.lineTo(a.right - len, py);
      }
    });
    ctx.stroke();

    const L = Math.round(a.left) + 0.5, R = Math.round(a.right) + 0.5;
    const T = Math.round(a.top) + 0.5, B = Math.round(a.bottom) + 0.5;
    ctx.strokeStyle = '#8a8a8a';
    ctx.beginPath();
    ctx.moveTo(L, T); ctx.lineTo(L, B); ctx.lineTo(R, B);
    ctx.stroke();
    ctx.strokeStyle = '#404040';
    ctx.beginPath();
    ctx.moveTo(L, T); ctx.lineTo(R, T); ctx.lineTo(R, B);
    ctx.stroke();

    ctx.fillStyle = '#000';

    // y tick labels 10^n
    yDecades.forEach(e => {
      const py = ys.getPixelForValue(Math.pow(10, e));
      ctx.font = '18px ' + FONT;
      ctx.textAlign = 'left';
      ctx.textBaseline = 'middle';
      ctx.fillText('10', 48, py + 1);
      const w = ctx.measureText('10').width;
      ctx.font = '12px ' + FONT;
      ctx.fillText(String(e), 48 + w, py - 8);
    });

    // x tick labels
    ctx.font = '18px ' + FONT;
    ctx.textAlign = 'center';
    ctx.textBaseline = 'top';
    xTicks.forEach(v => ctx.fillText(String(v), xs.getPixelForValue(v), a.bottom + 8));

    // title and x label
    const cx = (a.left + a.right) / 2;
    ctx.font = '20px ' + FONT;
    ctx.textBaseline = 'middle';
    ctx.fillText('Probability density functions', cx, 16);
    ctx.font = '21px ' + FONT;
    ctx.fillText('Intensity, I/<I>', cx, 656);

    // y label with subscript
    ctx.save();
    ctx.translate(21, (a.top + a.bottom) / 2 + 6);
    ctx.rotate(-Math.PI / 2);
    ctx.textAlign = 'left';
    ctx.textBaseline = 'middle';
    const p1 = 'PDF, p', sub = 'I', p2 = '(I/<I>)';
    ctx.font = '23px ' + FONT;
    const w1 = ctx.measureText(p1).width, w3 = ctx.measureText(p2).width;
    ctx.font = '15px ' + FONT;
    const w2 = ctx.measureText(sub).width;
    const sx = -(w1 + w2 + w3) / 2;
    ctx.font = '23px ' + FONT;
    ctx.fillText(p1, sx, 0);
    ctx.font = '15px ' + FONT;
    ctx.fillText(sub, sx + w1, 7);
    ctx.font = '23px ' + FONT;
    ctx.fillText(p2, sx + w1 + w2, 0);
    ctx.restore();

    // legend box
    const box = { x: 932.5, y: 44.5, w: 140, h: 136 };
    ctx.fillStyle = '#fff';
    ctx.fillRect(box.x, box.y, box.w, box.h);
    ctx.strokeStyle = '#7a7a7a';
    ctx.strokeRect(box.x, box.y, box.w, box.h);
    ctx.font = '20px ' + FONT;
    ctx.textAlign = 'left';
    ctx.textBaseline = 'middle';
    chart.data.datasets.forEach((ds, i) => {
      const cy = 64 + i * 25.4;
      ctx.fillStyle = ds.pointBorderColor;
      ctx.beginPath();
      ctx.arc(954, cy, 1.4, 0, Math.PI * 2);
      ctx.fill();
      ctx.fillStyle = '#000';
      ctx.fillText(ds.label, 971, cy + 1);
    });

    ctx.restore();
  }
};

new Chart(document.getElementById('pdfChart'), {
  type: 'scatter',
  data: {
    datasets: seriesData.map((pts, i) => ({
      label: seriesLabels[i],
      data: pts.map(([x, y]) => ({ x, y })),
      pointStyle: 'cross',
      pointRadius: 3,
      pointBorderWidth: 2.2,
      pointBorderColor: seriesColors[i],
      pointBackgroundColor: seriesColors[i],
      order: 5 - i
    }))
  },
  options: {
    responsive: false,
    devicePixelRatio: 1,
    animation: false,
    events: [],
    layout: { padding: { left: 86, right: 18, top: 39, bottom: 51 } },
    scales: {
      x: { type: 'linear', min: 0, max: 15, display: false },
      y: { type: 'logarithmic', min: 1e-6, max: 10, display: false }
    },
    plugins: {
      legend: { display: false },
      tooltip: { enabled: false }
    }
  },
  plugins: [matlabAxes]
});
</script>
</body>
</html>
